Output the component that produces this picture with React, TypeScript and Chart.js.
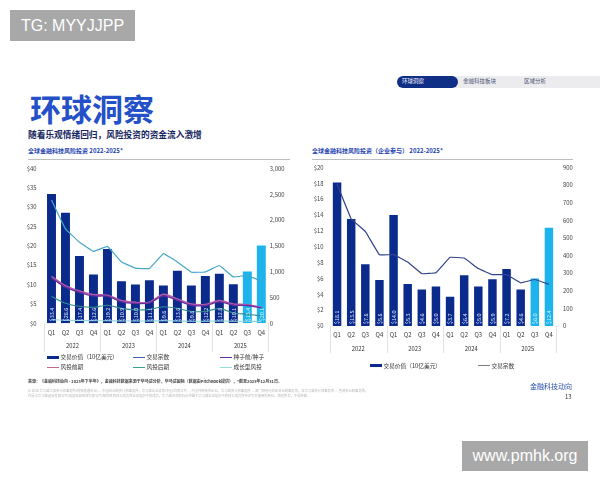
import React, { useEffect, useRef } from "react";
import { Chart, registerables } from "chart.js";

Chart.register(...registerables);

const QUARTERS = ["Q1", "Q2", "Q3", "Q4", "Q1", "Q2", "Q3", "Q4", "Q1", "Q2", "Q3", "Q4", "Q1", "Q2", "Q3", "Q4"];
const YEARS = ["2022", "2023", "2024", "2025"];

// Left chart: global fintech VC investment
const leftDealValue = [33.4, 28.6, 17.4, 12.6, 19.2, 10.9, 10.0, 11.1, 9.8, 13.6, 9.8, 12.2, 12.8, 10.1, 13.4, 20.1];
const leftDealCount = [2390, 1830, 1570, 1395, 1490, 1190, 1070, 1060, 1350, 1190, 990, 995, 1120, 900, 930, 815];
const leftSeed = [880, 700, 600, 530, 525, 415, 385, 395, 530, 445, 350, 345, 415, 350, 345, 300];
const leftEarly = [910, 730, 625, 555, 545, 440, 405, 410, 560, 470, 375, 365, 440, 375, 360, 310];
const leftLate = [520, 390, 330, 310, 350, 290, 260, 270, 320, 290, 230, 230, 290, 200, 175, 140];
const leftGrowth = [70, 60, 55, 50, 50, 45, 45, 45, 50, 45, 40, 40, 45, 40, 40, 35];

// Right chart: corporate-participation VC investment
const rightDealValue = [18.1, 13.5, 7.8, 5.8, 14.0, 5.3, 4.6, 5.0, 3.7, 6.4, 5.0, 5.9, 7.2, 4.6, 6.0, 12.4];
const rightDealCount = [806, 608, 537, 405, 405, 363, 297, 303, 390, 386, 326, 292, 292, 245, 264, 237];

const FONT = '"Noto Sans CJK SC", "Noto Sans", sans-serif';
const NAVY = "#0b2b8c";
const LIGHT = "#1db4ee";
const LIGHT_FROM = 14;

const barColors = (n: number) => Array.from({ length: n }, (_, i) => (i >= LIGHT_FROM ? LIGHT : NAVY));

const groupPlugin = {
  id: "yearGroups",
  afterDatasetsDraw(chart: any) {
    const { ctx } = chart;
    const meta = chart.getDatasetMeta(0);
    const values = chart.data.datasets[0].data;
    ctx.save();
    ctx.font = `5.4px ${FONT}`;
    ctx.textAlign = "left";
    ctx.textBaseline = "middle";
    meta.data.forEach((bar: any, i: number) => {
      ctx.save();
      ctx.translate(bar.x, bar.base - 2);
      ctx.rotate(-Math.PI / 2);
      ctx.fillStyle = i >= LIGHT_FROM ? "rgba(255,255,255,0.85)" : "#dfe8ff";
      ctx.fillText("$" + Number(values[i]).toFixed(1), 0, 0.3);
      ctx.restore();
    });
    ctx.restore();
  },
  afterDraw(chart: any, _args: any, opts: any) {
    const { ctx, chartArea, scales } = chart;
    const x = scales.x;
    const n = chart.data.labels.length;
    const half = (x.getPixelForValue(1) - x.getPixelForValue(0)) / 2;
    ctx.save();
    ctx.strokeStyle = "#d6d6d6";
    ctx.lineWidth = 0.7;
    for (let g = 0; g <= YEARS.length; g++) {
      const idx = g * 4;
      const px = idx < n ? x.getPixelForValue(idx) - half : x.getPixelForValue(n - 1) + half;
      ctx.beginPath();
      ctx.moveTo(Math.round(px) + 0.5, chartArea.bottom);
      ctx.lineTo(Math.round(px) + 0.5, chartArea.bottom + opts.sepLen);
      ctx.stroke();
    }
    ctx.fillStyle = "#333";
    ctx.font = `5.8px ${FONT}`;
    ctx.textAlign = "center";
    ctx.textBaseline = "middle";
    YEARS.forEach((yr, g) => {
      const cx = (x.getPixelForValue(g * 4) + x.getPixelForValue(g * 4 + 3)) / 2;
      ctx.fillText(yr, cx, chartArea.bottom + opts.yearOffset);
    });
    ctx.restore();
  },
};

const tickFont = { family: FONT, size: 5.9 };

function axisX(height: number, pad: number) {
  return {
    grid: { display: false, drawTicks: false },
    border: { display: false },
    ticks: { font: tickFont, color: "#333", padding: pad, maxRotation: 0, autoSkip: false },
    afterFit: (s: any) => {
      s.height = height;
    },
  };
}

function axisY(pos: string, max: number, step: number, fmt: (v: number) => string, width: number, pad: number) {
  return {
    position: pos,
    min: 0,
    max,
    grid: { display: false, drawTicks: false },
    border: { display: false },
    ticks: { stepSize: step, callback: (v: any) => fmt(Number(v)), font: tickFont, color: "#444", padding: pad },
    afterFit: (s: any) => {
      s.width = width;
    },
  };
}

function lineDs(data: number[], color: string, width: number, order: number, tension = 0.15) {
  return {
    type: "line",
    data,
    borderColor: color,
    backgroundColor: color,
    borderWidth: width,
    pointRadius: 0,
    yAxisID: "y1",
    order,
    tension,
  };
}

function LeftChart() {
  const ref = useRef<HTMLCanvasElement>(null);
  useEffect(() => {
    const chart = new Chart(ref.current as HTMLCanvasElement, {
      type: "bar",
      data: {
        labels: QUARTERS,
        datasets: [
          {
            type: "bar",
            data: leftDealValue,
            backgroundColor: barColors(leftDealValue.length),
            yAxisID: "y",
            order: 10,
            barPercentage: 0.64,
            categoryPercentage: 1,
          },
          lineDs(leftDealCount, "#45a8c6", 1.2, 1, 0.05),
          lineDs(leftEarly, "#b45aa8", 1.6, 3, 0.25),
          lineDs(leftSeed, "#6a2ea0", 1.3, 2, 0.25),
          lineDs(leftLate, "#2f8d8e", 1.1, 4, 0.2),
          lineDs(leftGrowth, "#8fd6e2", 1.1, 5, 0.2),
        ] as any,
      },
      options: {
        animation: false,
        responsive: false,
        devicePixelRatio: 1,
        layout: { padding: { top: 10.3, left: 0, right: 0, bottom: 0 } },
        plugins: {
          legend: { display: false },
          tooltip: { enabled: false },
          yearGroups: { sepLen: 29, yearOffset: 22 },
        } as any,
        scales: {
          x: axisX(33.7, 5.5),
          y: axisY("left", 40, 5, (v) => "$" + v, 24.5, 8),
          y1: axisY("right", 3000, 500, (v) => v.toLocaleString("en-US"), 26.7, 1.5),
        } as any,
      },
      plugins: [groupPlugin],
    });
    return () => chart.destroy();
  }, []);
  return <canvas ref={ref} width={275} height={200} style={{ position: "absolute", left: 20, top: 157 }} />;
}

function RightChart() {
  const ref = useRef<HTMLCanvasElement>(null);
  useEffect(() => {
    const chart = new Chart(ref.current as HTMLCanvasElement, {
      type: "bar",
      data: {
        labels: QUARTERS,
        datasets: [
          {
            type: "bar",
            data: rightDealValue,
            backgroundColor: barColors(rightDealValue.length),
            yAxisID: "y",
            order: 10,
            barPercentage: 0.6,
            categoryPercentage: 1,
          },
          lineDs(rightDealCount, "#33438e", 1.2, 1, 0.05),
        ] as any,
      },
      options: {
        animation: false,
        responsive: false,
        devicePixelRatio: 1,
        layout: { padding: { top: 9.7, left: 0, right: 0, bottom: 0 } },
        plugins: {
          legend: { display: false },
          tooltip: { enabled: false },
          yearGroups: { sepLen: 27, yearOffset: 22.3 },
        } as any,
        scales: {
          x: axisX(31, 5.5),
          y: axisY("left", 20, 2, (v) => "$" + v, 30, 6.5),
          y1: axisY("right", 900, 100, (v) => String(v), 34, 7),
        } as any,
      },
      plugins: [groupPlugin],
    });
    return () => chart.destroy();
  }, []);
  return <canvas ref={ref} width={290} height={200} style={{ position: "absolute", left: 300, top: 157 }} />;
}

const abs = (left: number, centerY: number, size: number, extra: any = {}) => ({
  position: "absolute" as const,
  left,
  top: centerY - size / 2,
  fontSize: size,
  lineHeight: `${size}px`,
  whiteSpace: "nowrap" as const,
  ...extra,
});

function LegendItem({ x, y, color, text, thick }: { x: number; y: number; color: string; text: string; thick?: boolean }) {
  return (
    <>
      <div
        style={{
          position: "absolute",
          left: x,
          top: y - (thick ? 1.5 : 0.6),
          width: 12,
          height: thick ? 3 : 1.2,
          background: color,
        }}
      />
      <div style={abs(x + 13.5, y, 5.7, { color: "#333" })}>{text}</div>
    </>
  );
}

export default function App() {
  return (
    <div
      style={{
        position: "fixed",
        left: 0,
        top: 0,
        width: 600,
        height: 480,
        background: "#fff",
        overflow: "hidden",
        fontFamily: FONT,
      }}
    >
      {/* watermark top-left */}
      <div
        style={{
          position: "absolute",
          left: 10,
          top: 10,
          width: 125,
          height: 31,
          background: "#a8a8a8",
          color: "#fff",
          fontFamily: '"Liberation Sans", Arial, sans-serif',
          fontSize: 16,
          lineHeight: "31px",
          textAlign: "center",
        }}
      >
        TG: MYYJJPP
      </div>

      {/* tabs */}
      <div style={{ position: "absolute", left: 452, top: 76, width: 148, height: 12, background: "#ececef" }} />
      <div style={{ position: "absolute", left: 397, top: 76, width: 61, height: 12, borderRadius: 6, background: "#0f2f87" }} />
      <div style={abs(402, 82, 5.5, { color: "#fff" })}>环球洞察</div>
      <div style={abs(463, 82, 5.5, { color: "#4a5070" })}>金融科技板块</div>
      <div style={abs(524, 82, 5.5, { color: "#4a5070" })}>区域分析</div>

      {/* headings */}
      <div style={abs(30, 107, 31, { color: "#2450c8", fontWeight: 700 })}>环球洞察</div>
      <div style={abs(28, 135, 8.7, { color: "#16265e", fontWeight: 700 })}>随着乐观情绪回归，风险投资的资金流入激增</div>

      <div style={abs(28, 151, 6, { color: "#1e44b0", fontWeight: 700 })}>全球金融科技风险投资 2022-2025*</div>
      <div style={{ position: "absolute", left: 28, top: 158.5, width: 262, height: 1, background: "#bdbdbd" }} />
      <div style={abs(312, 151, 6, { color: "#1e44b0", fontWeight: 700 })}>全球金融科技风险投资（企业参与） 2022-2025*</div>
      <div style={{ position: "absolute", left: 312, top: 158.5, width: 261, height: 1, background: "#bdbdbd" }} />

      <LeftChart />
      <RightChart />

      {/* left legend */}
      <LegendItem x={47} y={357.3} color={NAVY} text="交易价值（10亿美元）" thick />
      <LegendItem x={133} y={357.3} color="#3d5fbf" text="交易宗数" />
      <LegendItem x={220} y={357.3} color="#6a2ea0" text="种子前/种子" />
      <LegendItem x={47} y={367.3} color="#c0688f" text="风投前期" />
      <LegendItem x={133} y={367.3} color="#3a9e8c" text="风投后期" />
      <LegendItem x={220} y={367.3} color="#8fe0d6" text="成长型风投" />

      {/* right legend */}
      <LegendItem x={370} y={365.7} color={NAVY} text="交易价值（10亿美元）" thick />
      <LegendItem x={478} y={365.7} color="#7a7f92" text="交易宗数" />

      {/* footer */}
      <div style={abs(28, 381, 4, { color: "#444", fontWeight: 700 })}>
        来源：《金融科技动向 - 2025年下半年》，金融科技数据来源于毕马威分析，毕马威国际（数据由PitchBook提供），*截至2025年12月31日。
      </div>
      <div style={abs(28, 391, 3.3, { color: "#b8b8b8" })}>
        © 2026 毕马威华振会计师事务所(特殊普通合伙) — 中国合伙制会计师事务所，毕马威企业咨询(中国)有限公司 — 中国外商独资企业，毕马威会计师事务所 — 澳门特别行政区合伙制事务所，及毕马威会计师事务所 — 香港合伙制事务所，
      </div>
      <div style={abs(28, 396, 3.3, { color: "#b8b8b8" })}>
        均是与毕马威国际有限公司(英国私营担保有限公司)相关联的独立成员所全球组织中的成员。毕马威名称和标识均属于毕马威全球组织中的独立成员所经许可后使用的商标。版权所有，不得转载。
      </div>
      <div style={abs(530, 386, 7, { color: "#2b4ea8" })}>金融科技动向</div>
      <div style={abs(565, 397, 6, { color: "#333" })}>13</div>

      {/* watermark bottom-right */}
      <div
        style={{
          position: "absolute",
          left: 462,
          top: 441,
          width: 126,
          height: 30,
          background: "#a8a8a8",
          color: "#fff",
          fontFamily: '"Liberation Sans", Arial, sans-serif',
          fontSize: 16,
          lineHeight: "30px",
          textAlign: "center",
        }}
      >
        www.pmhk.org
      </div>
    </div>
  );
}
